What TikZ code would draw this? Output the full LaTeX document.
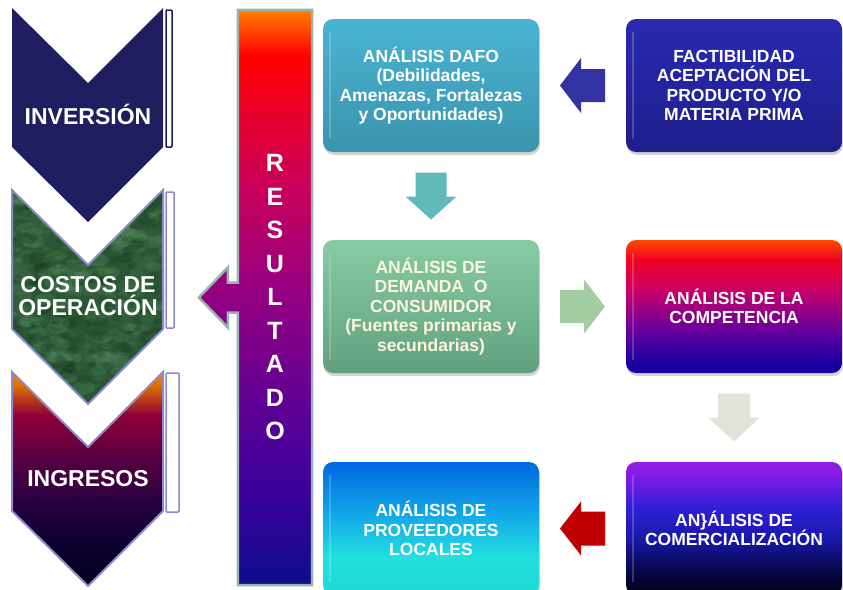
\documentclass[tikz,border=0pt]{standalone}
\usepackage{fontspec}
\setmainfont{Liberation Sans}
\usetikzlibrary{calc,shadows,backgrounds}

\definecolor{navychev}{HTML}{1F1E5F}
\definecolor{lav}{HTML}{8C8ACB}
\definecolor{resborder}{HTML}{9AB2B2}
\definecolor{cgreen}{HTML}{2A5634}
\definecolor{cgreenlt}{HTML}{5E9A6C}
\definecolor{cgreendk}{HTML}{0E2E18}
\definecolor{arblue}{HTML}{3232A2}
\definecolor{arteal}{HTML}{60BABA}
\definecolor{argreen}{HTML}{A2CCA2}
\definecolor{argray}{HTML}{E2E4DA}
\definecolor{arred}{HTML}{C00000}
\definecolor{cream}{HTML}{FFF4DC}
\definecolor{dafoT}{HTML}{4AB4D4}
\definecolor{dafoB}{HTML}{3A94AC}
\definecolor{factT}{HTML}{2A2AB2}
\definecolor{factB}{HTML}{1E1E8C}
\definecolor{demT}{HTML}{86CCA4}
\definecolor{demB}{HTML}{62A080}
% result bar
\definecolor{rbA}{HTML}{FF8000}
\definecolor{rbB}{HTML}{FF0000}
\definecolor{rbC}{HTML}{E8002C}
\definecolor{rbD}{HTML}{CC0058}
\definecolor{rbE}{HTML}{980080}
\definecolor{rbF}{HTML}{600094}
\definecolor{rbG}{HTML}{3A009C}
\definecolor{rbH}{HTML}{0E0E8C}
% ingresos
\definecolor{inA}{HTML}{F58200}
\definecolor{inB}{HTML}{E07000}
\definecolor{inC}{HTML}{900038}
\definecolor{inD}{HTML}{580040}
\definecolor{inE}{HTML}{2A0040}
\definecolor{inF}{HTML}{0C0030}
\definecolor{inG}{HTML}{000018}
% competencia
\definecolor{coA}{HTML}{FF4A00}
\definecolor{coB}{HTML}{F00020}
\definecolor{coC}{HTML}{D00060}
\definecolor{coD}{HTML}{A00080}
\definecolor{coE}{HTML}{6000A0}
\definecolor{coF}{HTML}{2000A0}
\definecolor{coG}{HTML}{1200A0}
% comercializacion
\definecolor{cmA}{HTML}{9020E0}
\definecolor{cmB}{HTML}{8A1AE8}
\definecolor{cmC}{HTML}{3020D8}
\definecolor{cmD}{HTML}{1818A8}
\definecolor{cmE}{HTML}{080850}
\definecolor{cmF}{HTML}{000010}
% proveedores
\definecolor{prA}{HTML}{0068E0}
\definecolor{prB}{HTML}{12A8E8}
\definecolor{prC}{HTML}{22E0E0}
\definecolor{prD}{HTML}{1ED8D0}

\pgfdeclareverticalshading{resshade}{100bp}{color(0bp)=(rbH); color(25bp)=(rbH); color(33bp)=(rbG); color(41bp)=(rbF); color(51bp)=(rbE); color(60bp)=(rbD); color(66bp)=(rbC); color(71bp)=(rbB); color(75bp)=(rbA); color(100bp)=(rbA)}
\pgfdeclareverticalshading{ingshade}{100bp}{color(0bp)=(inG); color(25bp)=(inG); color(35bp)=(inF); color(45bp)=(inE); color(55bp)=(inD); color(65bp)=(inC); color(72bp)=(inB); color(75bp)=(inA); color(100bp)=(inA)}
\pgfdeclareverticalshading{compshade}{100bp}{color(0bp)=(coG); color(25bp)=(coG); color(30bp)=(coF); color(40bp)=(coE); color(50bp)=(coD); color(57.5bp)=(coC); color(67.5bp)=(coB); color(75bp)=(coA); color(100bp)=(coA)}
\pgfdeclareverticalshading{comershade}{100bp}{color(0bp)=(cmF); color(25bp)=(cmF); color(35bp)=(cmE); color(46bp)=(cmD); color(58bp)=(cmC); color(71bp)=(cmB); color(75bp)=(cmA); color(100bp)=(cmA)}
\pgfdeclareverticalshading{provshade}{100bp}{color(0bp)=(prD); color(25bp)=(prD); color(39bp)=(prC); color(55bp)=(prB); color(75bp)=(prA); color(100bp)=(prA)}

\newcommand\blkarrow[7]{%
  \begin{scope}[shift={#1},rotate=#2]
    \fill[#7] (-#3/2,-#6/2) -- (#3/2-#4,-#6/2) -- (#3/2-#4,-#5/2) -- (#3/2,0)
      -- (#3/2-#4,#5/2) -- (#3/2-#4,#6/2) -- (-#3/2,#6/2) -- cycle;
  \end{scope}}

\begin{document}
\begin{tikzpicture}[x=1pt,y=-1pt,
  box/.style={minimum width=216, minimum height=133, rounded corners=10,
    inner sep=0, text=white, align=center,
    font=\bfseries\fontsize{17.5}{19.5}\selectfont,
    drop shadow={shadow xshift=1pt,shadow yshift=-3pt,opacity=0.35}},
  chevlbl/.style={text=white, inner sep=0, align=center,
    font=\bfseries\fontsize{23}{23}\selectfont},
  restxt/.style={minimum width=74, minimum height=575, inner sep=0,
    text=white, align=center, font=\bfseries\fontsize{25}{33.5}\selectfont},
  sidebar/.style={fill=white, line width=1.5, rounded corners=1},
  gloss/.style={white, opacity=0.2, line width=2.5, line cap=round}]

\useasboundingbox (0,0) rectangle (843,589);
\begin{scope}
\clip (0,0) rectangle (843,589);

% ---------- left chevrons ----------
\fill[navychev] (12,8) -- (88,83) -- (163,8) -- (163,147) -- (88,222) -- (12,147) -- cycle;
\draw[sidebar, draw=navychev] (166,10) rectangle (172,147);

\begin{scope}
  \clip (12,190) -- (88,265) -- (163,190) -- (163,329) -- (88,404) -- (12,329) -- cycle;
  \fill[cgreen] (0,180) rectangle (180,410);
  \pgfmathsetseed{11}
  \foreach \i in {1,...,420}{
    \pgfmathsetmacro\xx{8+160*rnd}
    \pgfmathsetmacro\yy{186+222*rnd}
    \pgfmathsetmacro\rr{3+9*rnd}
    \pgfmathsetmacro\op{0.06+0.18*rnd}
    \fill[cgreenlt, opacity=\op] (\xx,\yy) ellipse [x radius=\rr, y radius=0.55*\rr];
  }
  \foreach \i in {1,...,200}{
    \pgfmathsetmacro\xx{8+160*rnd}
    \pgfmathsetmacro\yy{186+222*rnd}
    \pgfmathsetmacro\rr{2+6*rnd}
    \fill[cgreendk, opacity=0.2] (\xx,\yy) ellipse [x radius=\rr, y radius=0.7*\rr];
  }
\end{scope}
\draw[lav, line width=2] (12,190) -- (88,265) -- (163,190) -- (163,329) -- (88,404) -- (12,329) -- cycle;
\draw[sidebar, draw=lav] (166,192) rectangle (174,328);

\path[shading=ingshade, draw=lav, line width=2] (12,372) -- (88,447) -- (163,372) -- (163,511) -- (88,586) -- (12,511) -- cycle;
\draw[sidebar, draw=lav] (166,373) rectangle (179,512);

\node[chevlbl, anchor=base] (inv) at (88,124) {INVERSIÓN};
\node[chevlbl] (cos) at (88,296) {COSTOS DE\\OPERACIÓN};
\node[chevlbl, anchor=base] (ing) at (88,486.5) {INGRESOS};

% ---------- RESULTADO bar ----------
\node[restxt] (res) at (275,297.5) {R\\E\\S\\U\\L\\T\\A\\D\\O};
\begin{scope}[on background layer]
  \path[shading=resshade, draw=resborder, line width=2.5]
    (res.north west) -- (res.north east) -- (res.south east) -- (res.south west)
    -- ($(res.west)+(0,15)$) -- ($(res.west)+(-10,15)$) -- ($(res.west)+(-10,30)$)
    -- ($(res.west)+(-39,0)$) -- ($(res.west)+(-10,-30)$) -- ($(res.west)+(-10,-15)$)
    -- ($(res.west)+(0,-15)$) -- cycle;
\end{scope}

% ---------- boxes ----------
\node[box, top color=dafoT, bottom color=dafoB] (dafo) at (431,85.5)
  {ANÁLISIS DAFO\\(Debilidades,\\Amenazas, Fortalezas\\y Oportunidades)};
\node[box, top color=factT, bottom color=factB] (fact) at (734,85.5)
  {FACTIBILIDAD\\ACEPTACIÓN DEL\\PRODUCTO Y/O\\MATERIA PRIMA};
\node[box, top color=demT, bottom color=demB, text=cream] (dem) at (431,306.5)
  {ANÁLISIS DE\\DEMANDA~~O\\CONSUMIDOR\\(Fuentes primarias y\\secundarias)};
\node[box, shading=compshade] (comp) at (734,306.5)
  {ANÁLISIS DE LA\\COMPETENCIA};
\node[box, shading=provshade] (prov) at (431,528.5)
  {ANÁLISIS DE\\PROVEEDORES\\LOCALES};
\node[box, shading=comershade] (comer) at (734,528.5)
  {AN\}ÁLISIS DE\\COMERCIALIZACIÓN};

\foreach \b in {dafo,fact,dem,comp,prov,comer}{
  \draw[gloss] ($(\b.north west)+(7,14)$) -- ($(\b.south west)+(7,-14)$);
}

% ---------- block arrows ----------
\blkarrow{($(dafo.east)!0.5!(fact.west)$)}{180}{45}{21}{55}{33}{arblue}
\blkarrow{($(dafo.south)!0.5!(dem.north)$)}{-90}{47}{23}{51}{31}{arteal}
\blkarrow{($(dem.east)!0.5!(comp.west)$)}{0}{45}{21}{54}{33}{argreen}
\blkarrow{($(comp.south)!0.5!(comer.north)$)}{-90}{48}{24}{52}{32}{argray}
\blkarrow{($(prov.east)!0.5!(comer.west)$)}{180}{45}{21}{54}{34}{arred}
\end{scope}
\end{tikzpicture}
\end{document}
